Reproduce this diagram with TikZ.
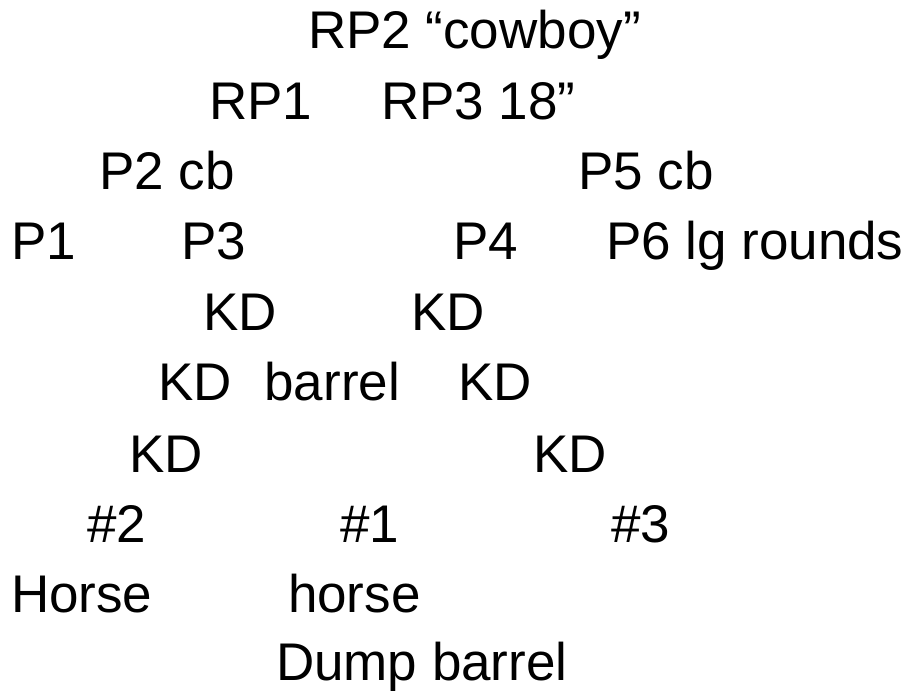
\documentclass[tikz,border=0pt]{standalone}
\usepackage{fontspec}
\setmainfont{Liberation Sans}
\begin{document}
\begin{tikzpicture}[x=1pt,y=1pt,
  lbl/.style={anchor=base west,inner sep=0pt,outer sep=0pt,font=\fontsize{53}{53}\selectfont}]
\useasboundingbox (0,0) rectangle (913,-692);
\node[lbl] (rp2) at (308,-49) {RP2 “cowboy”};
\node[lbl] (rp1) at (209,-120) {RP1};
\node[lbl] (rp3) at (381,-120) {RP3 18”};
\node[lbl] (p2) at (99,-190) {P2 cb};
\node[lbl] (p5) at (578,-190) {P5 cb};
\node[lbl] (p1) at (11,-260) {P1};
\node[lbl] (p3) at (181,-260) {P3};
\node[lbl] (p4) at (453,-260) {P4};
\node[lbl] (p6) at (606,-260) {P6 lg rounds};
\node[lbl] (kda) at (203,-331) {KD};
\node[lbl] (kdb) at (411,-331) {KD};
\node[lbl] (kdc) at (158,-401) {KD};
\node[lbl] (barrel) at (264.5,-401) {barrel};
\node[lbl] (kdd) at (458,-401) {KD};
\node[lbl] (kde) at (129,-472) {KD};
\node[lbl] (kdf) at (533,-472) {KD};
\node[lbl] (n2) at (87,-542) {\#2};
\node[lbl] (n1) at (340,-542) {\#1};
\node[lbl] (n3) at (611,-542) {\#3};
\node[lbl] (horseA) at (11,-612) {Horse};
\node[lbl] (horseB) at (288,-612) {horse};
\node[lbl] (dump) at (276,-680) {Dump barrel};
\end{tikzpicture}
\end{document}
